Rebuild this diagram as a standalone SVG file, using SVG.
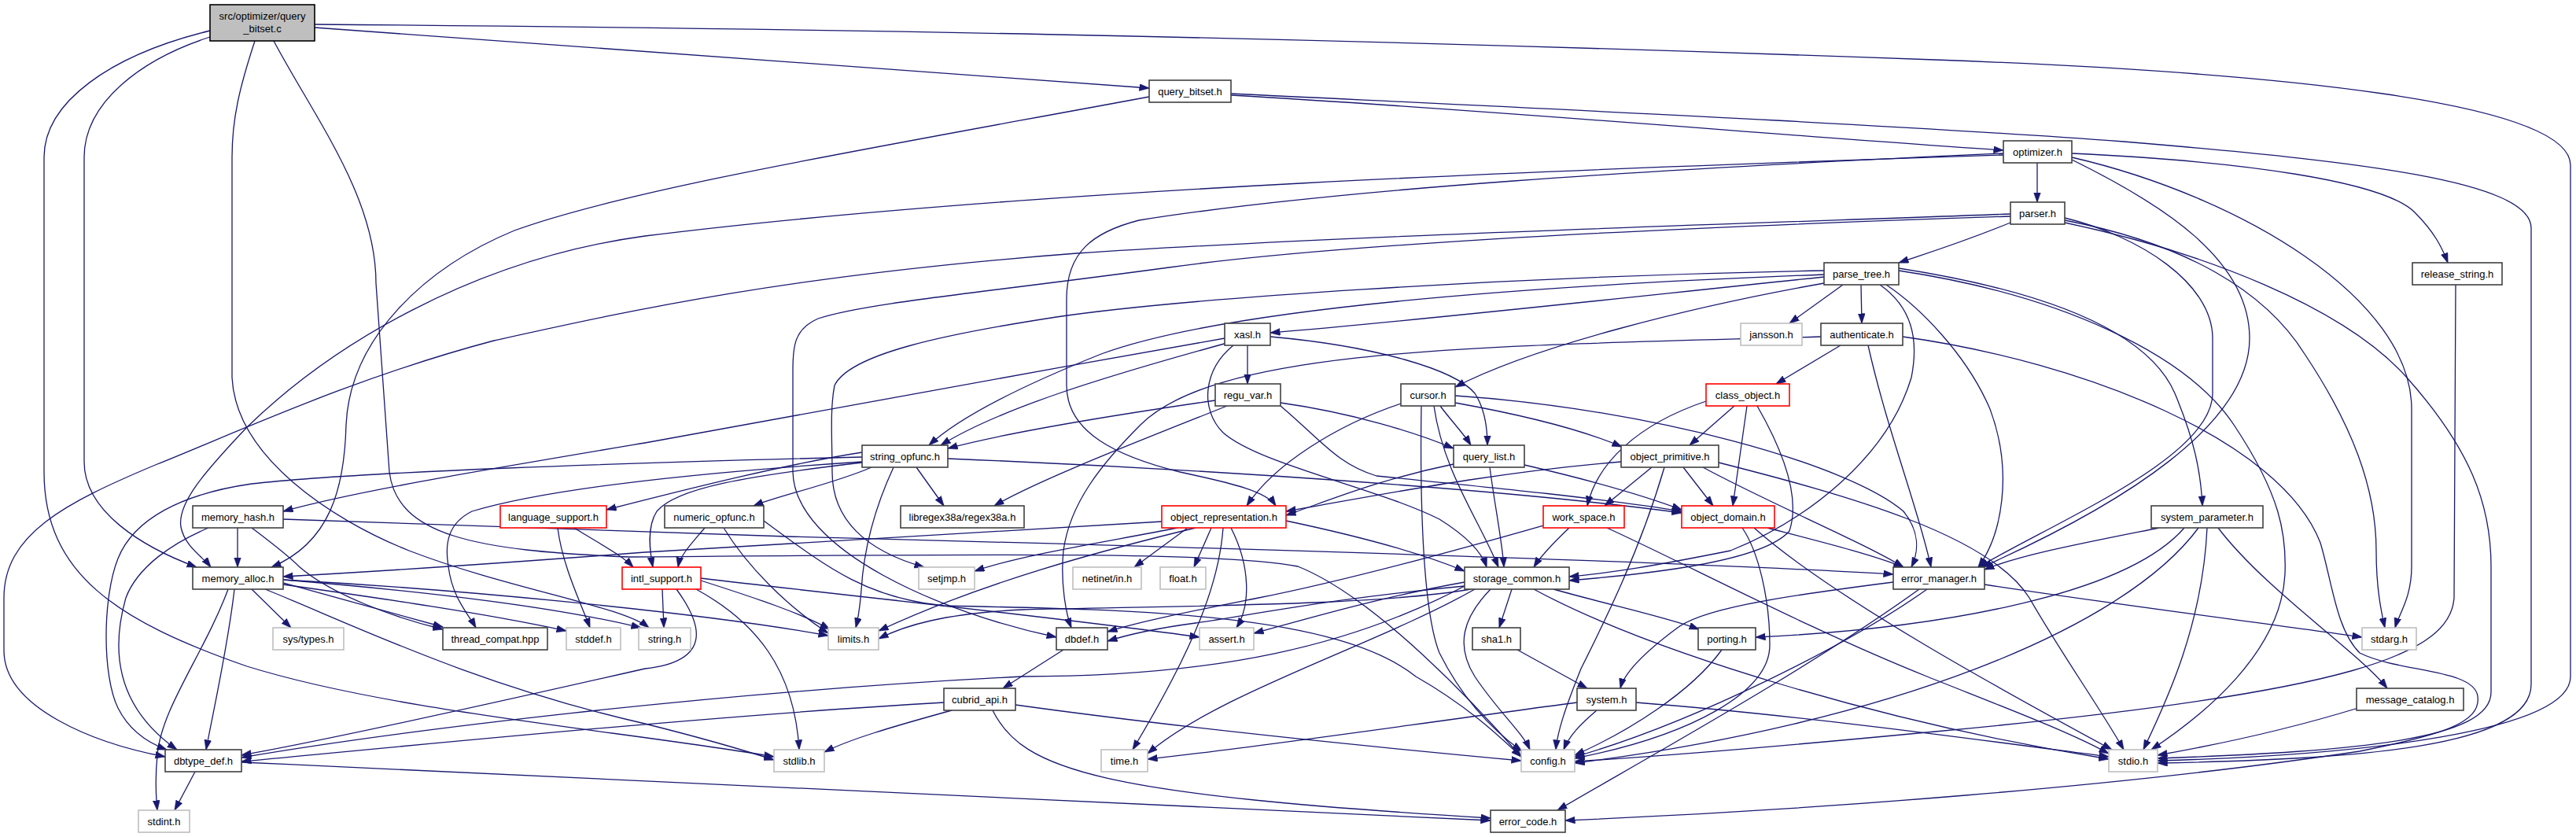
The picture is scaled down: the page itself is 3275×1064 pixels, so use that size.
<svg xmlns="http://www.w3.org/2000/svg" width="3275" height="1064" viewBox="0 0 3275 1064">
<defs>
<marker id="arr" markerUnits="userSpaceOnUse" markerWidth="13" markerHeight="10" refX="12.5" refY="4.5" orient="auto">
<path d="M0,0 L13,4.5 L0,9 z" fill="#191970" stroke="#191970" stroke-width="0.5"/>
</marker>
</defs>
<style>
#edges path{fill:none;stroke:#191970;stroke-width:1.3;marker-end:url(#arr)}
.node rect{fill:#ffffff;stroke:#404040;stroke-width:1.6}
.node.gray rect{stroke:#bfbfbf}
.node.red rect{stroke:#ff0000}
.node.main rect{fill:#bfbfbf;stroke:#000000}
.node text{font-family:"Liberation Sans",Arial,Helvetica,sans-serif;font-size:13px;fill:#000000;text-anchor:middle}
</style>
<rect x="0" y="0" width="3275" height="1064" fill="#ffffff"/>
<g id="edges">
<path d="M400,35 C800,64 1150,89 1461,112"/>
<path d="M400,31 C1000,36 1600,45 2460,76 C2900,92 3268,130 3268,210 L3268,860 C3268,930 3000,960 2743,967"/>
<path d="M267,47 C180,75 107,130 107,200 L107,587 C107,650 180,695 250,721"/>
<path d="M267,39 C140,70 56,130 56,200 L56,600 C56,730 150,790 314,847 C500,905 800,930 984,962"/>
<path d="M324,52 C305,110 295,150 295,200 L295,480 C300,580 420,660 520,700 C650,750 790,770 825,798"/>
<path d="M348,52 C400,150 478,250 478,360 L495,600 C505,680 600,700 800,708 C1200,705 1550,700 1650,720 C1750,760 1880,900 1934,962"/>
<path d="M1565,121 C1900,140 2300,175 2547,191"/>
<path d="M1565,119 C2000,140 2400,158 2700,180 C3000,205 3218,230 3218,290 L3218,870 C3218,950 3000,965 2743,970"/>
<path d="M1461,123 C1100,190 800,240 654,293 C540,340 445,430 440,540 C438,620 420,690 345,721"/>
<path d="M2590,207 L2590,257"/>
<path d="M2634,195 C2850,205 3030,230 3070,270 C3095,295 3105,315 3112,334"/>
<path d="M2634,203 C2750,260 2860,330 2860,430 C2860,540 2700,640 2520,721"/>
<path d="M2634,200 C2850,250 3066,380 3066,520 L3066,720 C3066,760 3050,780 3045,798"/>
<path d="M2547,197 C2000,215 1300,240 820,300 C600,330 420,440 314,543 C260,600 225,640 230,670 C235,695 258,708 268,721"/>
<path d="M2547,195 C2100,215 1700,240 1448,280 C1390,295 1356,320 1356,380 L1356,490 C1356,550 1420,580 1500,600 C1570,615 1610,625 1622,643"/>
<path d="M2556,283 C2490,310 2440,325 2414,334"/>
<path d="M2556,272 C2200,285 1700,300 1369,322 C1000,350 800,395 628,433 C450,480 300,550 200,590 C80,640 5,680 5,760 L5,827 C5,900 120,945 210,962"/>
<path d="M2556,275 C2100,290 1700,310 1486,340 C1250,372 1100,385 1040,405 C1010,418 1008,440 1008,470 L1008,600 C1010,700 1200,780 1343,810"/>
<path d="M2625,277 C2720,300 2813,360 2813,430 L2813,500 C2813,580 2620,660 2515,721"/>
<path d="M2625,280 C2780,310 2880,370 2930,450 C2990,540 3021,620 3021,700 C3021,750 3028,780 3032,798"/>
<path d="M2625,283 C2800,320 2980,390 3060,480 C3140,570 3167,640 3167,720 L3167,880 C3167,940 3000,955 2743,964"/>
<path d="M3122,362 L3120,760 C3115,830 3000,880 2460,930 C2250,950 2100,962 2002,968"/>
<path d="M2319,352 C2050,380 1800,408 1615,423"/>
<path d="M2343,362 L2275,411"/>
<path d="M2366,362 L2367,411"/>
<path d="M2319,360 C2150,390 1950,440 1850,492"/>
<path d="M2319,349 C1900,365 1550,395 1400,450 C1300,490 1220,530 1181,566"/>
<path d="M2319,344 C1900,352 1500,380 1343,403 C1200,425 1080,450 1061,490 C1055,520 1058,560 1058,600 C1058,660 1100,700 1175,721"/>
<path d="M2414,341 C2600,370 2730,420 2765,500 C2790,560 2798,600 2800,643"/>
<path d="M2414,344 C2620,375 2780,450 2840,540 C2900,630 2907,680 2905,730 C2900,830 2800,910 2735,953"/>
<path d="M2398,362 C2440,390 2500,450 2530,520 C2560,600 2545,680 2515,721"/>
<path d="M2390,362 C2430,390 2440,430 2430,480 C2400,580 2300,660 2200,700 C2100,720 2050,728 1995,733"/>
<path d="M1586,439 L1586,488"/>
<path d="M1560,436 C1400,480 1270,520 1196,566"/>
<path d="M1557,430 C1300,475 1000,530 820,563 C600,600 450,625 360,650"/>
<path d="M1615,428 C1750,440 1850,470 1875,500 C1888,520 1891,545 1891,566"/>
<path d="M1568,439 C1530,470 1525,520 1555,550 C1600,590 1750,620 1830,660 C1870,685 1885,705 1890,721"/>
<path d="M1545,509 C1400,530 1280,550 1205,570"/>
<path d="M1560,516 C1450,560 1320,610 1264,643"/>
<path d="M1628,512 C1720,525 1800,550 1848,570"/>
<path d="M1628,516 C1680,560 1700,590 1750,605 C1900,620 2050,635 2138,650"/>
<path d="M1831,516 C1845,535 1860,550 1870,566"/>
<path d="M1850,512 C1950,530 2020,550 2062,568"/>
<path d="M1781,513 C1700,540 1620,590 1585,643"/>
<path d="M1823,516 C1835,600 1880,660 1905,721"/>
<path d="M1807,516 C1805,650 1810,780 1830,830 C1860,890 1900,930 1935,955"/>
<path d="M1850,503 C2100,520 2350,590 2420,650 C2440,675 2440,700 2430,721"/>
<path d="M2340,439 L2258,488"/>
<path d="M2375,439 C2400,550 2440,650 2455,721"/>
<path d="M2419,428 C2650,460 2900,560 2950,690 C2965,740 2970,800 3000,830 C3050,855 3145,850 3150,885 C3155,920 3100,935 3000,955 C2700,1000 2300,1030 1990,1043"/>
<path d="M2315,428 C1900,440 1550,440 1450,540 C1400,590 1360,640 1352,700 C1348,740 1355,780 1362,798"/>
<path d="M2205,516 L2148,566"/>
<path d="M2169,510 C2080,540 2030,590 2018,643"/>
<path d="M2221,516 L2203,643"/>
<path d="M2234,516 C2265,570 2290,630 2275,675 C2240,715 2090,730 1995,738"/>
<path d="M1096,575 C1000,590 880,620 771,648"/>
<path d="M1108,594 C1060,615 990,630 958,643"/>
<path d="M1165,594 L1200,643"/>
<path d="M1096,588 C950,605 860,620 835,650 C822,670 826,700 830,721"/>
<path d="M1096,581 C800,588 450,600 320,615 C230,628 170,660 150,710 C130,760 130,860 150,900 C165,930 190,945 212,953"/>
<path d="M1096,587 C900,600 700,620 600,650 C570,665 565,690 570,720 C575,760 595,780 605,798"/>
<path d="M1205,583 C1500,595 1900,620 2138,652"/>
<path d="M1136,594 C1110,650 1098,700 1095,750 C1093,775 1090,790 1088,798"/>
<path d="M1938,591 C2020,610 2090,630 2138,648"/>
<path d="M1848,590 C1750,610 1680,640 1635,655"/>
<path d="M1894,594 C1900,640 1910,690 1912,721"/>
<path d="M2100,594 L2040,643"/>
<path d="M2140,594 L2178,643"/>
<path d="M2061,587 C1900,600 1750,630 1635,650"/>
<path d="M2165,594 C2250,640 2370,690 2420,721"/>
<path d="M2185,588 C2350,630 2530,680 2580,760 C2620,830 2670,900 2700,953"/>
<path d="M2116,594 C2085,700 2040,790 2010,850 C1990,900 1980,930 1978,953"/>
<path d="M302,671 L302,721"/>
<path d="M265,671 C220,690 175,720 160,760 C140,830 150,900 225,953"/>
<path d="M320,671 C345,690 365,705 380,720 C420,755 500,785 563,800"/>
<path d="M360,660 C600,668 800,675 1000,682 C1500,695 2100,712 2407,730"/>
<path d="M730,671 C760,690 790,705 805,721"/>
<path d="M709,671 C715,720 740,770 750,798"/>
<path d="M896,671 C880,690 865,705 862,721"/>
<path d="M971,662 C1050,720 1100,760 1200,770 C1450,775 1700,780 1800,860 C1870,900 1910,940 1934,962"/>
<path d="M920,671 C950,720 1000,770 1053,805"/>
<path d="M1635,662 C1720,680 1800,700 1862,726"/>
<path d="M1497,671 C1400,690 1300,705 1239,726"/>
<path d="M1510,671 L1442,721"/>
<path d="M1540,671 L1518,721"/>
<path d="M1520,671 C1400,700 1250,740 1117,802"/>
<path d="M1555,671 C1550,740 1520,820 1440,953"/>
<path d="M1565,671 C1590,720 1590,770 1572,798"/>
<path d="M1477,663 C1200,678 1000,690 820,702 C650,715 450,728 360,733"/>
<path d="M1995,671 C1975,690 1960,705 1950,721"/>
<path d="M1962,668 C1850,700 1700,740 1600,760 C1500,780 1450,790 1408,803"/>
<path d="M2043,671 C2150,720 2300,800 2450,860 C2550,900 2630,930 2681,958"/>
<path d="M2247,671 C2320,690 2380,705 2420,721"/>
<path d="M2215,671 C2235,700 2250,760 2250,820 C2250,880 2150,935 2002,964"/>
<path d="M2230,671 C2330,760 2550,880 2685,953"/>
<path d="M2745,671 C2650,690 2570,705 2523,724"/>
<path d="M2777,671 C2700,760 2450,800 2232,810"/>
<path d="M2795,671 C2700,800 2400,920 2002,970"/>
<path d="M2806,671 C2800,800 2750,900 2725,953"/>
<path d="M2820,671 C2880,750 3000,830 3035,875"/>
<path d="M2998,900 C2900,930 2800,950 2743,960"/>
<path d="M2523,743 C2700,770 2900,795 3003,810"/>
<path d="M2440,749 C2300,850 2100,960 1980,1030"/>
<path d="M2450,749 C2350,820 2150,920 2002,962"/>
<path d="M2407,740 C2250,760 2160,775 2130,800 C2090,830 2065,855 2060,875"/>
<path d="M1922,749 L1906,798"/>
<path d="M1975,749 C2050,770 2120,785 2160,800"/>
<path d="M1895,749 C1860,785 1850,820 1875,860 C1905,905 1935,930 1945,953"/>
<path d="M1950,749 C2100,830 2400,920 2681,965"/>
<path d="M1875,749 C1750,820 1550,880 1459,958"/>
<path d="M1862,740 C1750,760 1650,790 1594,805"/>
<path d="M1862,745 C1700,760 1600,780 1520,792 C1460,800 1430,808 1408,815"/>
<path d="M1870,749 C1750,770 1500,770 1300,775 C1200,780 1150,795 1117,812"/>
<path d="M1862,745 C1720,820 1550,860 1300,860 C900,880 500,930 307,963"/>
<path d="M1352,826 L1275,875"/>
<path d="M1200,893 C900,910 500,950 307,968"/>
<path d="M1210,903 C1130,925 1080,940 1048,956"/>
<path d="M1291,896 C1500,925 1750,950 1934,967"/>
<path d="M1262,903 C1300,980 1400,1010 1895,1040"/>
<path d="M2030,903 C2010,920 1995,935 1988,953"/>
<path d="M2005,893 C1800,920 1600,950 1459,965"/>
<path d="M2080,893 C2300,910 2550,945 2681,962"/>
<path d="M1929,826 L2018,875"/>
<path d="M2189,826 C2150,880 2070,930 2002,960"/>
<path d="M248,981 L222,1030"/>
<path d="M307,969 C900,995 1500,1025 1895,1043"/>
<path d="M360,741 C430,760 500,780 563,797"/>
<path d="M320,749 L370,798"/>
<path d="M360,743 C480,760 620,780 720,802"/>
<path d="M360,737 C520,750 700,770 815,798"/>
<path d="M298,749 C290,820 272,900 262,953"/>
<path d="M290,749 C260,830 205,900 200,960 C197,990 198,1010 200,1030"/>
<path d="M337,749 C440,790 600,870 820,920 C900,940 950,955 984,966"/>
<path d="M360,737 C600,750 900,780 1053,808"/>
<path d="M891,738 C960,760 1020,780 1055,800"/>
<path d="M891,735 C1100,760 1350,785 1525,810"/>
<path d="M885,749 C960,790 1010,850 1016,953"/>
<path d="M842,749 L844,798"/>
<path d="M860,749 C890,790 910,840 820,850 C600,900 420,940 307,960"/>
</g>
<g id="n_main" class="node main"><rect x="267" y="6" width="133" height="46"/><text x="333.5" y="24.5">src/optimizer/query</text><text x="333.5" y="41">_bitset.c</text></g>
<g id="n_query_bitset" class="node"><rect x="1461" y="102" width="104" height="28"/><text x="1513" y="120.5">query_bitset.h</text></g>
<g id="n_optimizer" class="node"><rect x="2547" y="179" width="87" height="28"/><text x="2590.5" y="197.5">optimizer.h</text></g>
<g id="n_parser" class="node"><rect x="2556" y="257" width="69" height="28"/><text x="2590.5" y="275.5">parser.h</text></g>
<g id="n_release_string" class="node"><rect x="3067" y="334" width="114" height="28"/><text x="3124" y="352.5">release_string.h</text></g>
<g id="n_parse_tree" class="node"><rect x="2319" y="334" width="95" height="28"/><text x="2366.5" y="352.5">parse_tree.h</text></g>
<g id="n_xasl" class="node"><rect x="1557" y="411" width="58" height="28"/><text x="1586" y="429.5">xasl.h</text></g>
<g id="n_jansson" class="node gray"><rect x="2213" y="411" width="78" height="28"/><text x="2252" y="429.5">jansson.h</text></g>
<g id="n_authenticate" class="node"><rect x="2315" y="411" width="104" height="28"/><text x="2367" y="429.5">authenticate.h</text></g>
<g id="n_regu_var" class="node"><rect x="1545" y="488" width="83" height="28"/><text x="1586.5" y="506.5">regu_var.h</text></g>
<g id="n_cursor" class="node"><rect x="1781" y="488" width="69" height="28"/><text x="1815.5" y="506.5">cursor.h</text></g>
<g id="n_class_object" class="node red"><rect x="2169" y="488" width="106" height="28"/><text x="2222" y="506.5">class_object.h</text></g>
<g id="n_string_opfunc" class="node"><rect x="1096" y="566" width="109" height="28"/><text x="1150.5" y="584.5">string_opfunc.h</text></g>
<g id="n_query_list" class="node"><rect x="1848" y="566" width="90" height="28"/><text x="1893" y="584.5">query_list.h</text></g>
<g id="n_object_primitive" class="node"><rect x="2061" y="566" width="124" height="28"/><text x="2123" y="584.5">object_primitive.h</text></g>
<g id="n_memory_hash" class="node"><rect x="245" y="643" width="115" height="28"/><text x="302.5" y="661.5">memory_hash.h</text></g>
<g id="n_language_support" class="node red"><rect x="636" y="643" width="135" height="28"/><text x="703.5" y="661.5">language_support.h</text></g>
<g id="n_numeric_opfunc" class="node"><rect x="845" y="643" width="126" height="28"/><text x="908" y="661.5">numeric_opfunc.h</text></g>
<g id="n_regex38a" class="node"><rect x="1145" y="643" width="157" height="28"/><text x="1223.5" y="661.5">libregex38a/regex38a.h</text></g>
<g id="n_object_representation" class="node red"><rect x="1477" y="643" width="158" height="28"/><text x="1556" y="661.5">object_representation.h</text></g>
<g id="n_work_space" class="node red"><rect x="1962" y="643" width="103" height="28"/><text x="2013.5" y="661.5">work_space.h</text></g>
<g id="n_object_domain" class="node red"><rect x="2138" y="643" width="118" height="28"/><text x="2197" y="661.5">object_domain.h</text></g>
<g id="n_system_parameter" class="node"><rect x="2735" y="643" width="142" height="28"/><text x="2806" y="661.5">system_parameter.h</text></g>
<g id="n_memory_alloc" class="node"><rect x="245" y="721" width="115" height="28"/><text x="302.5" y="739.5">memory_alloc.h</text></g>
<g id="n_intl_support" class="node red"><rect x="791" y="721" width="100" height="28"/><text x="841" y="739.5">intl_support.h</text></g>
<g id="n_setjmp" class="node gray"><rect x="1168" y="721" width="71" height="28"/><text x="1203.5" y="739.5">setjmp.h</text></g>
<g id="n_netinet_in" class="node gray"><rect x="1364" y="721" width="87" height="28"/><text x="1407.5" y="739.5">netinet/in.h</text></g>
<g id="n_float" class="node gray"><rect x="1475" y="721" width="58" height="28"/><text x="1504" y="739.5">float.h</text></g>
<g id="n_storage_common" class="node"><rect x="1862" y="721" width="133" height="28"/><text x="1928.5" y="739.5">storage_common.h</text></g>
<g id="n_error_manager" class="node"><rect x="2407" y="721" width="116" height="28"/><text x="2465" y="739.5">error_manager.h</text></g>
<g id="n_sys_types" class="node gray"><rect x="347" y="798" width="90" height="28"/><text x="392" y="816.5">sys/types.h</text></g>
<g id="n_thread_compat" class="node"><rect x="563" y="798" width="133" height="28"/><text x="629.5" y="816.5">thread_compat.hpp</text></g>
<g id="n_stddef" class="node gray"><rect x="720" y="798" width="69" height="28"/><text x="754.5" y="816.5">stddef.h</text></g>
<g id="n_string" class="node gray"><rect x="812" y="798" width="66" height="28"/><text x="845" y="816.5">string.h</text></g>
<g id="n_limits" class="node gray"><rect x="1053" y="798" width="64" height="28"/><text x="1085" y="816.5">limits.h</text></g>
<g id="n_dbdef" class="node"><rect x="1343" y="798" width="65" height="28"/><text x="1375.5" y="816.5">dbdef.h</text></g>
<g id="n_assert" class="node gray"><rect x="1525" y="798" width="69" height="28"/><text x="1559.5" y="816.5">assert.h</text></g>
<g id="n_sha1" class="node"><rect x="1872" y="798" width="61" height="28"/><text x="1902.5" y="816.5">sha1.h</text></g>
<g id="n_porting" class="node"><rect x="2159" y="798" width="73" height="28"/><text x="2195.5" y="816.5">porting.h</text></g>
<g id="n_stdarg" class="node gray"><rect x="3003" y="798" width="69" height="28"/><text x="3037.5" y="816.5">stdarg.h</text></g>
<g id="n_cubrid_api" class="node"><rect x="1200" y="875" width="91" height="28"/><text x="1245.5" y="893.5">cubrid_api.h</text></g>
<g id="n_system" class="node"><rect x="2005" y="875" width="75" height="28"/><text x="2042.5" y="893.5">system.h</text></g>
<g id="n_message_catalog" class="node"><rect x="2996" y="875" width="136" height="28"/><text x="3064" y="893.5">message_catalog.h</text></g>
<g id="n_dbtype_def" class="node"><rect x="210" y="953" width="97" height="28"/><text x="258.5" y="971.5">dbtype_def.h</text></g>
<g id="n_stdlib" class="node gray"><rect x="984" y="953" width="64" height="28"/><text x="1016" y="971.5">stdlib.h</text></g>
<g id="n_time" class="node gray"><rect x="1400" y="953" width="59" height="28"/><text x="1429.5" y="971.5">time.h</text></g>
<g id="n_config" class="node gray"><rect x="1934" y="953" width="68" height="28"/><text x="1968" y="971.5">config.h</text></g>
<g id="n_stdio" class="node gray"><rect x="2681" y="953" width="62" height="28"/><text x="2712" y="971.5">stdio.h</text></g>
<g id="n_stdint" class="node gray"><rect x="176" y="1030" width="65" height="28"/><text x="208.5" y="1048.5">stdint.h</text></g>
<g id="n_error_code" class="node"><rect x="1895" y="1030" width="95" height="28"/><text x="1942.5" y="1048.5">error_code.h</text></g>
</svg>
